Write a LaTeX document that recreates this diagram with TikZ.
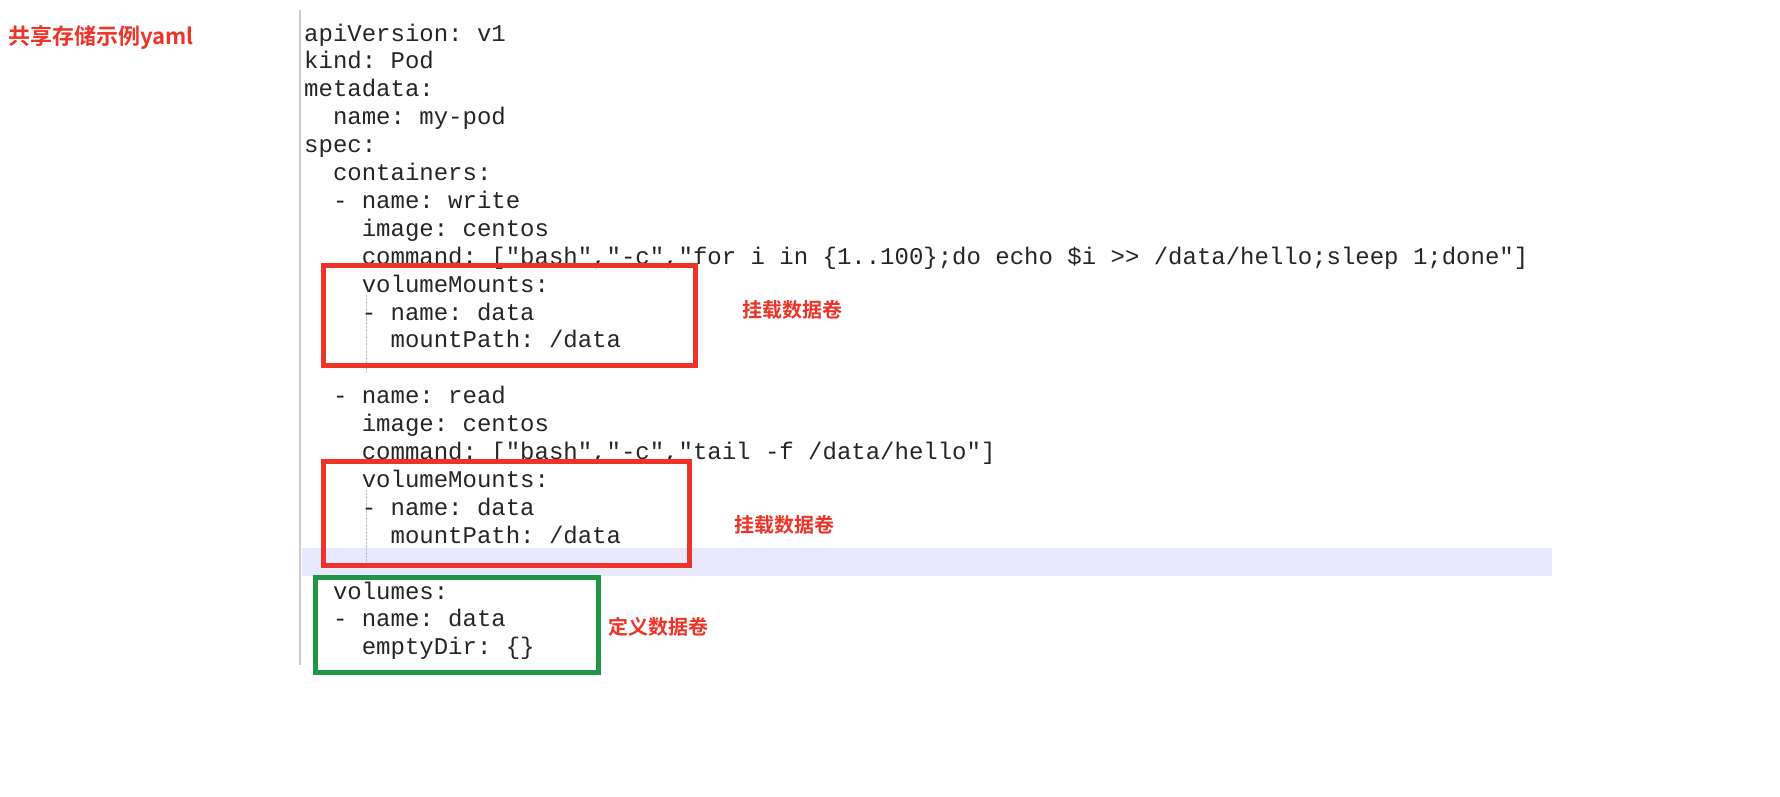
\documentclass[tikz,border=0pt]{standalone}
\usepackage{fontspec}
\setmonofont{Liberation Mono}
\newfontfamily\cjk{Noto Sans CJK SC Bold}
\definecolor{boxred}{RGB}{238,52,40}
\definecolor{boxgreen}{RGB}{30,150,70}
\definecolor{hl}{RGB}{232,232,255}
\begin{document}
\begin{tikzpicture}[x=1pt,y=-1pt,
  code/.style={anchor=base west,inner sep=0pt,font=\ttfamily\fontsize{24}{24}\selectfont,text=black!85},
  lbl/.style={anchor=west,inner sep=0pt,font=\cjk\fontsize{20}{20}\selectfont,text=boxred},
  redbox/.style={draw=boxred,line width=5pt},
  greenbox/.style={draw=boxgreen,line width=5pt}]
\useasboundingbox (0,0) rectangle (1780,796);
\fill[white] (0,0) rectangle (1780,796);
\fill[hl] (302,548) rectangle (1552,576);
\draw[black!20,line width=1.5pt] (300,10) -- (300,665);
\draw[black!25,densely dotted] (366,295) -- (366,372);
\draw[black!25,densely dotted] (366,490) -- (366,568);
\node[lbl,font=\cjk\fontsize{22}{22}\selectfont] (title) at (8,38) {共享存储示例yaml};
\def\L{27.9}
\foreach \t/\c/\r in {{apiVersion: v1}/0/0,{kind: Pod}/0/1,{metadata:}/0/2,{name: my-pod}/2/3,{spec:}/0/4,{containers:}/2/5,{- name: write}/2/6,{image: centos}/4/7,
 {command: ["bash","-c","for i in \{1..100\};do echo \$i >> /data/hello;sleep 1;done"]}/4/8,
 {volumeMounts:}/4/9,{- name: data}/4/10,{mountPath: /data}/6/11,
 {- name: read}/2/13,{image: centos}/4/14,{command: ["bash","-c","tail -f /data/hello"]}/4/15,
 {volumeMounts:}/4/16,{- name: data}/4/17,{mountPath: /data}/6/18,
 {volumes:}/2/20,{- name: data}/2/21,{emptyDir: \{\}}/4/22}
 \node[code] at ({304+14.4*\c},{41+\L*\r}) {\t};
\draw[redbox] (323,265) rectangle (695,365);
\draw[redbox] (323,461) rectangle (689,565);
\draw[greenbox] (315,577) rectangle (598,672);
\node[lbl] (l1) at (742,310) {挂载数据卷};
\node[lbl] (l2) at (734,525) {挂载数据卷};
\node[lbl] (l3) at (608,627) {定义数据卷};
\end{tikzpicture}
\end{document}
